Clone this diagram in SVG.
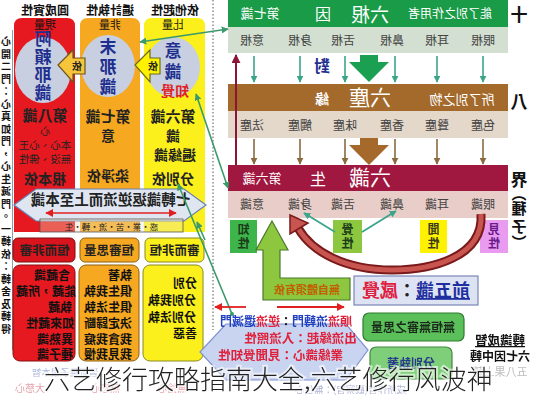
<svg xmlns="http://www.w3.org/2000/svg" width="533" height="400" viewBox="0 0 533 400">
<defs>
<style>
text{font-family:"Noto Sans CJK TC","Noto Sans CJK SC",sans-serif;}
.m{transform-box:fill-box;transform-origin:center;transform:scaleX(-1);}
.b{font-weight:bold;}
.c{text-anchor:middle;}
.r{text-anchor:end;}
.hd{font-size:12px;font-weight:bold;fill:#111;}
.ct{font-size:17px;font-weight:bold;fill:#1f2f8f;}
.lab{font-size:12px;fill:#444;}
.wt{fill:#fff;}
.lst{font-size:12px;font-weight:bold;fill:#111;}
.conn{stroke:#3a9a6a;stroke-width:1.6;fill:none;}
.dn1{stroke:#3aa58a;stroke-width:1.6;fill:none;}
.dn2{stroke:#8b6a40;stroke-width:1.6;fill:none;}
</style>
<marker id="ga" viewBox="0 0 10 10" refX="9" refY="5" markerWidth="7" markerHeight="7" orient="auto-start-reverse" markerUnits="userSpaceOnUse"><path d="M0,0 L10,5 L0,10 z" fill="#3a9a6a"/></marker>
<marker id="ta" viewBox="0 0 10 10" refX="9" refY="5" markerWidth="7" markerHeight="7" orient="auto-start-reverse" markerUnits="userSpaceOnUse"><path d="M0,0 L10,5 L0,10 z" fill="#3aa58a"/></marker>
<marker id="ba" viewBox="0 0 10 10" refX="9" refY="5" markerWidth="7" markerHeight="7" orient="auto" markerUnits="userSpaceOnUse"><path d="M0,0 L10,5 L0,10 z" fill="#8b6a40"/></marker>
<marker id="ra" viewBox="0 0 10 10" refX="9" refY="5" markerWidth="8" markerHeight="8" orient="auto-start-reverse" markerUnits="userSpaceOnUse"><path d="M0,0 L10,5 L0,10 z" fill="#e02020"/></marker>
<marker id="da" viewBox="0 0 10 10" refX="9" refY="5" markerWidth="9" markerHeight="9" orient="auto" markerUnits="userSpaceOnUse"><path d="M0,0 L10,5 L0,10 z" fill="#8b1538"/></marker>
</defs>
<rect width="533" height="400" fill="#ffffff"/>

<!-- left strip -->
<g id="left-strip">
<line x1="12.5" y1="30" x2="12.5" y2="350" stroke="#999" stroke-width="1"/>
<text class="m b c" x="6" y="45" font-size="10" fill="#111"><tspan x="6">心</tspan><tspan x="6" dy="12.5">開</tspan><tspan x="6" dy="12.5">二</tspan><tspan x="6" dy="12.5">門</tspan><tspan x="6" dy="12.5">：</tspan><tspan x="6" dy="12.5">心</tspan><tspan x="6" dy="12.5">真</tspan><tspan x="6" dy="12.5">如</tspan><tspan x="6" dy="12.5">門</tspan><tspan x="6" dy="12.5">，</tspan><tspan x="6" dy="12.5">心</tspan><tspan x="6" dy="12.5">生</tspan><tspan x="6" dy="12.5">滅</tspan><tspan x="6" dy="12.5">門</tspan><tspan x="6" dy="12.5">。</tspan><tspan x="6" dy="12.5">一</tspan><tspan x="6" dy="12.5">轉</tspan><tspan x="6" dy="12.5">依</tspan><tspan x="6" dy="12.5">：</tspan><tspan x="6" dy="12.5">轉</tspan><tspan x="6" dy="12.5">舍</tspan><tspan x="6" dy="12.5">及</tspan><tspan x="6" dy="12.5">轉</tspan><tspan x="6" dy="12.5">得</tspan></text>
</g>

<!-- column headers -->
<g id="headers">
<text class="m hd c" x="45" y="15">圓成實性</text>
<text class="m hd c" x="110" y="15">遍計執性</text>
<text class="m hd c" x="175" y="15">依他起性</text>
</g>

<!-- columns -->
<g id="col-8">
<path d="M14,232 V26 Q14,18 22,18 H67 Q75,18 75,26 V232 Z" fill="#e5191f"/>
<text class="m c" x="45" y="29" font-size="11" fill="#111">現量</text>
<ellipse cx="43" cy="70" rx="28" ry="33" fill="#c7cfe0"/>
<text class="m ct c" x="43" y="45"><tspan x="43">阿</tspan><tspan x="43" dy="18">賴</tspan><tspan x="43" dy="18">耶</tspan><tspan x="43" dy="18">識</tspan></text>
<text class="m b c" x="45" y="121" font-size="15" fill="#222">第八識</text>
<text class="m c" x="45" y="135" font-size="10" fill="#222">心</text>
<text class="m c" x="45" y="149" font-size="10.5" fill="#222">本心、心王</text>
<text class="m c" x="45" y="163" font-size="10.5" fill="#222">無沒、佛性</text>
<text class="m b c" x="45" y="184" font-size="14" fill="#222">根本依</text>
</g>
<g id="col-7">
<path d="M80,232 V26 Q80,18 88,18 H132 Q140,18 140,26 V232 Z" fill="#f6a820"/>
<text class="m c" x="110" y="29" font-size="11" fill="#111">非量</text>
<ellipse cx="108" cy="66" rx="27" ry="31" fill="#c7cfe0"/>
<text class="m ct c" x="108" y="53"><tspan x="108">末</tspan><tspan x="108" dy="20">那</tspan><tspan x="108" dy="20">識</tspan></text>
<text class="m b c" x="108" y="122" font-size="15" fill="#222">第七識</text>
<text class="m b c" x="108" y="141" font-size="14" fill="#222">意</text>
<text class="m b c" x="108" y="181" font-size="14" fill="#222">染淨依</text>
</g>
<g id="col-6">
<path d="M144,232 V26 Q144,18 152,18 H197 Q205,18 205,26 V232 Z" fill="#fbf01c"/>
<text class="m c" x="173" y="29" font-size="11" fill="#111">比量</text>
<ellipse cx="173" cy="67" rx="27" ry="30" fill="#c7cfe0"/>
<text class="m ct c" x="173" y="57"><tspan x="173">意</tspan><tspan x="173" dy="21">識</tspan></text>
<text class="m b c" x="175" y="96" font-size="14" fill="#e02020">知覺</text>
<text class="m b c" x="173" y="122" font-size="15" fill="#222">第六識</text>
<text class="m b c" x="173" y="141" font-size="14" fill="#222">識</text>
<text class="m b c" x="175" y="160" font-size="14" fill="#222">遍緣識</text>
<text class="m b c" x="173" y="184" font-size="14" fill="#222">分別依</text>
</g>

<!-- 依 arrows -->
<g id="yi-arrows">
<polygon points="135,65 150,50 150,58 160,58 160,74 150,74 150,82" fill="#fff200" stroke="#6b6b20" stroke-width="1.2"/>
<text class="m b c" x="153" y="70" font-size="10" fill="#222">依</text>
<polygon points="58,65 73,50 73,58 85,58 85,74 73,74 73,82" fill="#f7c53a" stroke="#6b5520" stroke-width="1.2"/>
<text class="m b c" x="77" y="70" font-size="10" fill="#222">依</text>
</g>

<!-- banner -->
<g id="banner">
<polygon points="14,205 36,189 184,189 206,205 184,221 36,221" fill="#dfe6f2" stroke="#6a7fb0" stroke-width="1.2"/>
<text class="m b c" x="110" y="205" font-size="14.5" fill="#222">七轉識返逆流而上至本識</text>
<line x1="46" y1="213" x2="176" y2="213" stroke="#e02020" stroke-width="1.5" marker-start="url(#ra)" marker-end="url(#ra)"/>
<rect x="40" y="219" width="143" height="13" fill="#f4e6c0" fill-opacity="0.35" stroke="#555" stroke-width="0.8"/>
<text class="m c" x="111" y="229.5" font-size="8.5" fill="#222">惑・業・苦・流・轉・生</text>
</g>

<!-- header row boxes -->
<g id="row-heng">
<rect x="13" y="238" width="62" height="24" rx="5" fill="#d9141c" stroke="#7a1010" stroke-width="1"/>
<text class="m b c" x="44" y="255" font-size="12.5" fill="#222">恒而非審</text>
<rect x="80" y="238" width="59" height="24" rx="5" fill="#f6a820" stroke="#8a6010" stroke-width="1"/>
<text class="m b c" x="109" y="255" font-size="12.5" fill="#222">恒審思量</text>
<rect x="145" y="238" width="59" height="24" rx="5" fill="#fbf01c" stroke="#8a8a20" stroke-width="1"/>
<text class="m b c" x="174" y="255" font-size="12.5" fill="#222">審而非恒</text>
</g>

<!-- content boxes -->
<g id="box-8">
<rect x="13" y="265" width="62" height="96" rx="7" fill="#e5191f" stroke="#8a1010" stroke-width="1"/>
<g class="lst">
<text class="m c" x="52" y="280">含藏識</text>
<text class="m c" x="46" y="296">能藏，所藏</text>
<text class="m c" x="60" y="312">執藏</text>
<text class="m c" x="50" y="328">如來藏性</text>
<text class="m c" x="55" y="344">異熟識</text>
<text class="m c" x="55" y="359">種子識</text>
</g>
</g>
<g id="box-7">
<rect x="79" y="265" width="60" height="96" rx="7" fill="#f6a820" stroke="#8a6010" stroke-width="1"/>
<g class="lst">
<text class="m c" x="120" y="280">執著</text>
<text class="m c" x="108" y="296">俱生我執</text>
<text class="m c" x="108" y="312">俱生法執</text>
<text class="m c" x="108" y="328">決定歸斷</text>
<text class="m c" x="108" y="344">我貪我癡</text>
<text class="m c" x="108" y="359">我見我慢</text>
</g>
</g>
<g id="box-6">
<rect x="143" y="265" width="60" height="96" rx="7" fill="#fbf01c" stroke="#8a8a20" stroke-width="1"/>
<g class="lst">
<text class="m c" x="185" y="288">分別</text>
<text class="m c" x="172" y="305">分別我執</text>
<text class="m c" x="172" y="322">分別法執</text>
<text class="m c" x="185" y="338">善惡</text>
</g>
</g>

<!-- faint bottom text -->
<g id="faint-bottom" opacity="0.55">
<text class="m c" x="65" y="376" font-size="9.5" fill="#6a80c0">習氣種子根本智</text>
<text class="m c" x="30" y="392" font-size="10" fill="#d05060">大慈心</text>
<text class="m c" x="105" y="392" font-size="10" fill="#d05060">無悲心</text>
<text class="m c" x="172" y="392" font-size="10" fill="#d05060">無捨心</text>
<text class="m c" x="500" y="376" font-size="11" fill="#888">五八果上轉</text>
<text class="m c" x="350" y="393" font-size="9.5" fill="#6a70b0">成所作智(觀察智)：無住心</text>
</g>

<!-- dotted divider -->
<line x1="213" y1="0" x2="213" y2="330" stroke="#555" stroke-width="1" stroke-dasharray="1.5,2"/>

<!-- right: 六根 -->
<g id="liugen">
<rect x="228" y="0" width="280" height="27" fill="#1a9b48"/>
<text class="m wt c" x="260" y="18" font-size="13">第七識</text>
<text class="m wt c" x="323" y="20" font-size="16">因</text>
<text class="m wt c" x="370" y="22" font-size="19">六根</text>
<text class="m wt c" x="450" y="18" font-size="12">能了別之作用者</text>
<rect x="228" y="27" width="280" height="26" fill="#d3dfd1"/>
<text class="m lab c" x="252" y="45">意根</text>
<text class="m lab c" x="300" y="45">身根</text>
<text class="m lab c" x="343" y="45">舌根</text>
<text class="m lab c" x="392" y="45">鼻根</text>
<text class="m lab c" x="437" y="45">耳根</text>
<text class="m lab c" x="483" y="45">眼根</text>
</g>

<g id="liuchen">
<rect x="228" y="84" width="280" height="27" fill="#a36a2c"/>
<text class="m wt c b" x="322" y="104" font-size="14">緣</text>
<text class="m wt c" x="370" y="105" font-size="21">六塵</text>
<text class="m wt c" x="462" y="104" font-size="13">所了別之物</text>
<rect x="228" y="111" width="280" height="27" fill="#e4d8ca"/>
<text class="m lab c" x="252" y="130">法塵</text>
<text class="m lab c" x="300" y="130">觸塵</text>
<text class="m lab c" x="345" y="130">味塵</text>
<text class="m lab c" x="392" y="130">香塵</text>
<text class="m lab c" x="437" y="130">聲塵</text>
<text class="m lab c" x="483" y="130">色塵</text>
</g>

<g id="liushi">
<rect x="228" y="165" width="280" height="26" fill="#a0173f"/>
<text class="m wt c" x="262" y="183" font-size="13">第六識</text>
<text class="m wt c" x="318" y="185" font-size="16">生</text>
<text class="m wt c" x="370" y="185" font-size="21">六識</text>
<rect x="228" y="191" width="280" height="27" fill="#e8cdc8"/>
<text class="m lab c" x="252" y="209">意識</text>
<text class="m lab c" x="300" y="209">身識</text>
<text class="m lab c" x="343" y="209">舌識</text>
<text class="m lab c" x="392" y="209">鼻識</text>
<text class="m lab c" x="437" y="209">耳識</text>
<text class="m lab c" x="483" y="209">眼識</text>
</g>

<!-- side labels -->
<g id="side-labels">
<text class="b c" x="519" y="21" font-size="17" fill="#111">十</text>
<text class="b c" x="519" y="108" font-size="17" fill="#111">八</text>
<text class="b c" x="519" y="186" font-size="17" fill="#111">界</text>
<text class="m b c" x="519" y="199" font-size="15" fill="#111"><tspan x="519">︵</tspan><tspan x="519" dy="15">種</tspan><tspan x="519" dy="18">子</tspan><tspan x="519" dy="16">︶</tspan></text>
<text class="m b c" x="322" y="72" font-size="16" fill="#1f2f8f">對</text>
</g>

<!-- sense nature boxes -->
<g id="zhixing"><rect x="230" y="220" width="27" height="33" fill="#3db54a"/><text class="m b c" x="243.5" y="234" font-size="12" fill="#1a3a1a"><tspan x="243.5">知</tspan><tspan x="243.5" dy="14">性</tspan></text></g>
<g id="juexing"><rect x="333" y="220" width="29" height="33" fill="#8dc63f"/><text class="m b c" x="347.5" y="234" font-size="12" fill="#1a3a1a"><tspan x="347.5">覺</tspan><tspan x="347.5" dy="14">性</tspan></text></g>
<g id="wenxing"><rect x="420" y="220" width="27" height="33" fill="#fff200"/><text class="m b c" x="433.5" y="234" font-size="12" fill="#3a3a1a"><tspan x="433.5">聞</tspan><tspan x="433.5" dy="14">性</tspan></text></g>
<g id="jianxing"><rect x="480" y="220" width="28" height="33" fill="#e99bf0"/><text class="m b c" x="494" y="234" font-size="12" fill="#6a1a8a"><tspan x="494">見</tspan><tspan x="494" dy="14">性</tspan></text></g>

<!-- green L arrow -->
<g id="wuziti">
<polygon points="272,221 288,250 280,250 280,278 350,278 350,300 263,300 263,250 256,250" fill="#8dc63f" stroke="#4a7a2a" stroke-width="1.2"/>
<text class="m b c" x="307" y="294" font-size="11" fill="#c06000">無自體須有依</text>
</g>

<!-- 前五識 -->
<g id="qianwushi">
<rect x="354" y="276" width="124" height="29" fill="#dde3f3" stroke="#7b86b8" stroke-width="1.2"/>
<text class="m b c" x="416" y="297" font-size="18"><tspan fill="#1f2fa0" text-decoration="underline">前五識</tspan><tspan fill="#222">：</tspan><tspan fill="#e02040">感覺</tspan></text>
</g>

<!-- hexagon -->
<g id="liuzhuan">
<polygon points="200,352 226,324 346,324 368,350 346,380 226,380" fill="#c9d4f0" stroke="#8093d0" stroke-width="1.2"/>
<text class="m b c" x="286" y="326" font-size="12"><tspan fill="#e0203a">順流</tspan><tspan fill="#2040c0">流轉門</tspan><tspan fill="#222">：</tspan><tspan fill="#e0203a">逆流</tspan><tspan fill="#2040c0">還滅門</tspan></text>
<text class="m b c" x="300" y="343" font-size="12.5" fill="#e0203a">出流緣起：入流照性</text>
<text class="m b c" x="280" y="360" font-size="12.5" fill="#e0203a">業緣識心：見聞覺知性</text>
</g>

<!-- green boxes -->
<g id="wuheng"><rect x="363" y="313" width="101" height="28" rx="6" fill="#5cc05a" stroke="#2f7a2f" stroke-width="1.2"/><text class="m b c" x="413" y="332" font-size="12" fill="#1a2a1a">無恒無審之思量</text></g>
<g id="fenbie"><rect x="370" y="347" width="82" height="32" rx="6" fill="#7fcf7a" stroke="#3f8a3f" stroke-width="1.2"/><text class="m b c" x="411" y="368" font-size="12" fill="#2a3a8a">分別執著</text></g>

<!-- 轉識成智 -->
<g id="zhuanshi">
<text class="m b c" x="500" y="345" font-size="12.5" fill="#111" text-decoration="underline">轉識成智</text>
<text class="m b c" x="500" y="361" font-size="12" fill="#111">六七因中轉</text>
</g>

<!-- connectors -->
<g id="connectors">
<line class="conn" x1="140" y1="42" x2="228" y2="29" marker-start="url(#ga)" marker-end="url(#ga)"/>
<line class="conn" x1="196" y1="94" x2="228" y2="188" marker-start="url(#ga)" marker-end="url(#ga)"/>
<line class="conn" x1="178" y1="184" x2="232" y2="314" marker-start="url(#ga)"/>
<line class="conn" x1="205" y1="240" x2="197" y2="222" marker-end="url(#ga)"/>
<circle cx="232" cy="314" r="2" fill="#3a9a6a"/>
<line x1="236" y1="165" x2="236" y2="55" stroke="#8b1538" stroke-width="2" marker-end="url(#da)"/>
<g class="dn1">
<line x1="254" y1="56" x2="254" y2="82" marker-end="url(#ta)"/>
<line x1="300" y1="56" x2="300" y2="82" marker-end="url(#ta)"/>
<line x1="345" y1="56" x2="345" y2="82" marker-end="url(#ta)"/>
<line x1="395" y1="56" x2="395" y2="82" marker-end="url(#ta)"/>
<line x1="437" y1="56" x2="437" y2="82" marker-end="url(#ta)"/>
<line x1="483" y1="56" x2="483" y2="82" marker-end="url(#ta)"/>
</g>
<polygon points="360,55 378,55 378,62 389,62 369,82 349,62 360,62" fill="#1aa050"/>
<g class="dn2">
<line x1="254" y1="139" x2="254" y2="164" marker-end="url(#ba)"/>
<line x1="300" y1="139" x2="300" y2="164" marker-end="url(#ba)"/>
<line x1="345" y1="139" x2="345" y2="164" marker-end="url(#ba)"/>
<line x1="395" y1="139" x2="395" y2="164" marker-end="url(#ba)"/>
<line x1="437" y1="139" x2="437" y2="164" marker-end="url(#ba)"/>
<line x1="483" y1="139" x2="483" y2="164" marker-end="url(#ba)"/>
</g>
<polygon points="360,138 378,138 378,145 389,145 369,165 349,145 360,145" fill="#a5692b"/>
<line x1="335" y1="232" x2="304" y2="213" stroke="#3aa58a" stroke-width="1.8" marker-end="url(#ta)"/>
<line x1="362" y1="232" x2="396" y2="211" stroke="#3aa58a" stroke-width="1.8" marker-end="url(#ta)"/>
<path d="M481,214 C484,258 430,270 392,270 C345,270 312,252 298,228" fill="none" stroke="#7a1a1a" stroke-width="9"/>
<path d="M481,214 C484,258 430,270 392,270 C345,270 312,252 298,228" fill="none" stroke="#c8554f" stroke-width="5"/>
<polygon points="290,215 308,223 290,234" fill="#c8554f" stroke="#7a1a1a" stroke-width="1.5"/>
<line x1="246" y1="307" x2="215" y2="307" stroke="#e02020" stroke-width="1.8" marker-end="url(#ra)"/>
<line x1="277" y1="307" x2="344" y2="307" stroke="#e02020" stroke-width="1.8" marker-end="url(#ra)"/>
</g>

<!-- watermark -->
<text x="44" y="389" font-size="26" fill="#222" stroke="#ffffff" stroke-width="4" stroke-opacity="0.6" paint-order="stroke" style="font-family:'Noto Sans CJK SC','Noto Sans CJK TC',sans-serif;font-weight:300">六艺修行攻略指南大全,六艺修行风波神</text>
</svg>
